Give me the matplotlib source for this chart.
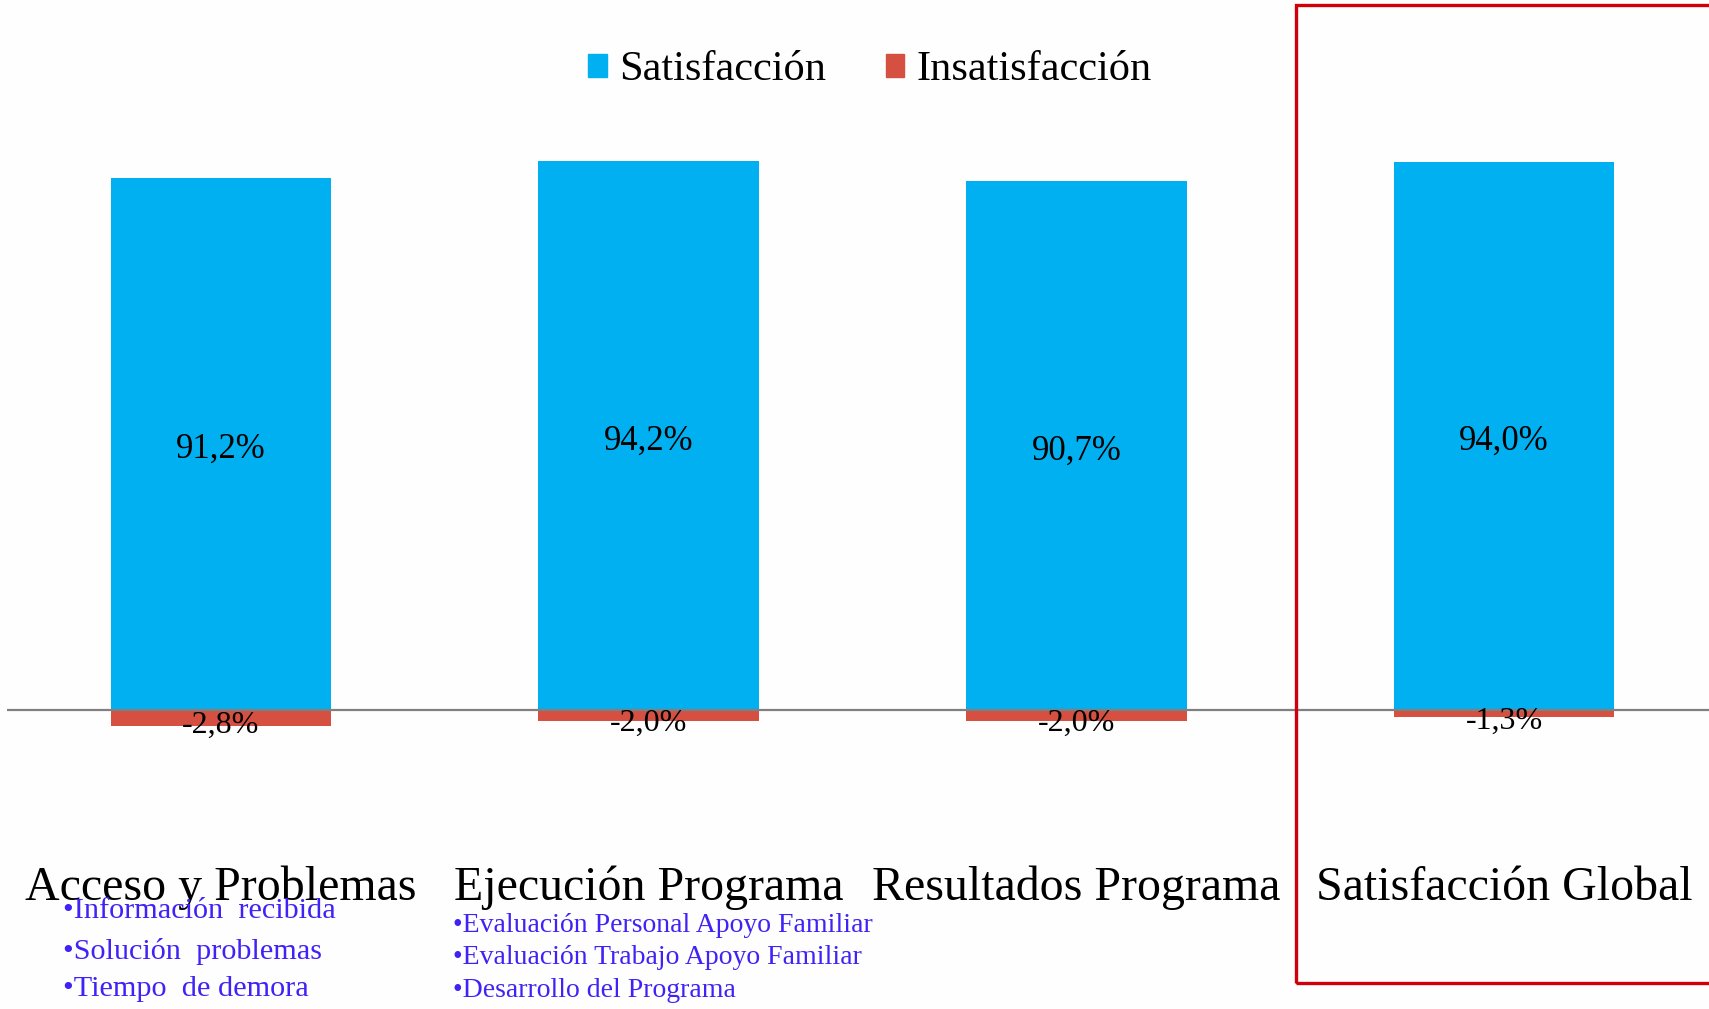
import matplotlib
matplotlib.use("Agg")
import matplotlib.pyplot as plt
from matplotlib.patches import Rectangle, Patch
from matplotlib.transforms import offset_copy, blended_transform_factory

plt.rcParams["font.family"] = ["Liberation Serif", "DejaVu Serif"]

categories = ["Acceso y Problemas", "Ejecución Programa", "Resultados Programa", "Satisfacción Global"]
satisfaccion = [91.2, 94.2, 90.7, 94.0]
insatisfaccion = [-2.8, -2.0, -2.0, -1.3]
items_acceso = ["•Información  recibida", "•Solución  problemas", "•Tiempo  de demora"]
items_ejecucion = ["•Evaluación Personal Apoyo Familiar", "•Evaluación Trabajo Apoyo Familiar",
                   "•Desarrollo del Programa"]

BLUE = "#00B0F0"
RED = "#D55041"
TEXT_BLUE = "#3F22F5"
W, H = 1709, 1009


def fmt(v):
    return f"{v:.1f}%".replace(".", ",")


fig = plt.figure(figsize=(W / 100, H / 100), dpi=100)
fig.patch.set_facecolor("#FEFEFE")
ax = fig.add_axes([7 / W, (H - 797) / H, 1711 / W, 728 / H])
ax.set_facecolor("none")

x = list(range(len(categories)))
ax.bar(x, satisfaccion, width=0.515, color=BLUE, zorder=2)
ax.bar(x, insatisfaccion, width=0.515, color=RED, zorder=2)
ax.axhline(0, color="#808080", lw=1.6, zorder=3)

# value labels, centred in the bars (nudged down a little like the original)
pos_tr = offset_copy(ax.transData, fig=fig, y=-5.5, units="dots")
neg_tr = offset_copy(ax.transData, fig=fig, y=-7.5, units="dots")
for i, v in enumerate(satisfaccion):
    ax.text(i, v / 2, fmt(v), transform=pos_tr, ha="center", va="center", fontsize=25, zorder=4)
for i, v in enumerate(insatisfaccion):
    ax.text(i, v / 2, fmt(v), transform=neg_tr, ha="center", va="center", fontsize=23, zorder=4)

ax.set_xlim(-0.5, 3.5)
ax.set_ylim(-15, 110)
ax.axis("off")

# category names below the bars
cat_tr = blended_transform_factory(ax.transData, fig.transFigure)
for i, c in enumerate(categories):
    ax.text(i, (H - 900) / H, c, transform=cat_tr, ha="center", va="baseline", fontsize=34.5)

# sub-items
for txt, yb in zip(items_acceso, [918, 959, 996]):
    fig.text(63 / W, (H - yb) / H, txt, color=TEXT_BLUE, fontsize=21.8, va="baseline")
for txt, yb in zip(items_ejecucion, [932, 964, 997]):
    fig.text(453 / W, (H - yb) / H, txt, color=TEXT_BLUE, fontsize=20, va="baseline")

# red highlight box
fig.add_artist(Rectangle((1296 / W, (H - 983) / H), 0.3, 978 / H, transform=fig.transFigure,
                         fill=False, edgecolor="#D0000A", lw=2.4, clip_on=False))

handles = [Patch(color=BLUE, label="Satisfacción"), Patch(color=RED, label="Insatisfacción")]
fig.legend(handles=handles, loc="center", bbox_to_anchor=(870 / W, 1 - 70 / H), ncol=2,
           frameon=False, fontsize=30.5, handlelength=0.43, handleheight=0.45,
           handletextpad=0.3, columnspacing=1.4)

fig.savefig("out.png", dpi=100, facecolor=fig.get_facecolor())
